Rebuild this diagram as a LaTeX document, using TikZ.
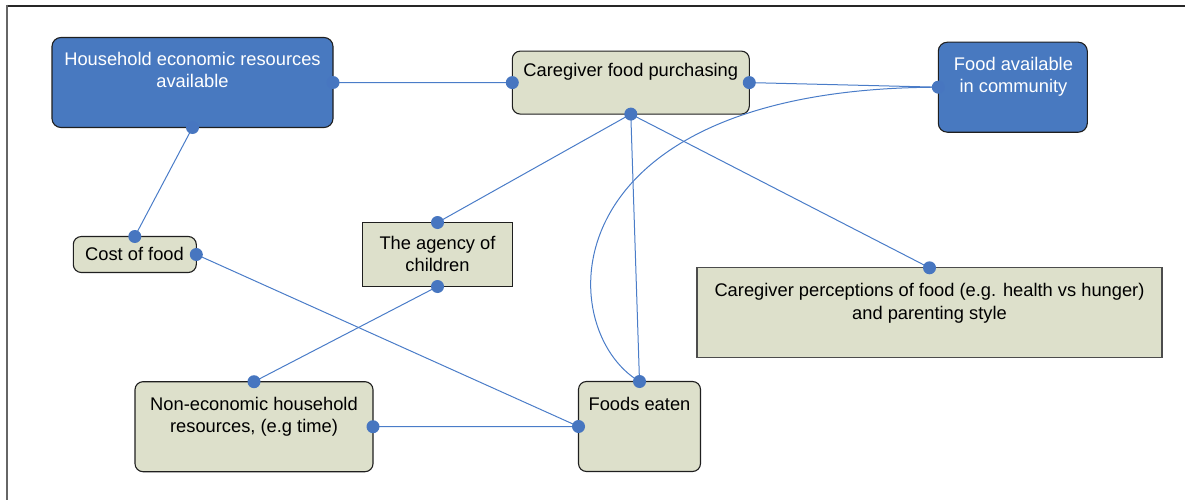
\documentclass[tikz,border=0pt]{standalone}
\usepackage{fontspec}
\setmainfont{Liberation Sans}
\definecolor{boxblue}{RGB}{72,121,192}
\definecolor{boxgreen}{RGB}{221,224,203}
\definecolor{linkblue}{RGB}{74,124,200}
\definecolor{dotblue}{RGB}{71,118,192}
\begin{document}
\begin{tikzpicture}[x=1pt,y=-1pt,
  box/.style={draw=black!88, line width=1.1pt, inner sep=0pt, outer sep=0pt},
  bluebox/.style={box, fill=boxblue, rounded corners=9pt},
  greenbox/.style={box, fill=boxgreen, rounded corners=8pt},
  sqbox/.style={box, fill=boxgreen, sharp corners},
  lbl/.style={anchor=north, align=center, inner sep=0pt, font=\fontsize{18.3}{22.8}\selectfont},
  wlbl/.style={lbl, text=white},
  link/.style={draw=linkblue, line width=1pt},
  dotm/.style={fill=dotblue}]
\useasboundingbox (0,0) rectangle (1185,500);
% frame
\draw[black!85, line width=2pt] (7,5.7) -- (1185,5.7);
\draw[black!60, line width=2.3pt] (7.3,4.7) -- (7.3,500);
% boxes
\node[bluebox, minimum width=281pt, minimum height=90pt] (hh) at (192.5,82.5) {};
\node[greenbox, minimum width=237pt, minimum height=63pt] (cfp) at (630.8,82.6) {};
\node[bluebox, minimum width=149pt, minimum height=90pt] (fa) at (1012.8,87.2) {};
\node[greenbox, minimum width=123pt, minimum height=36pt] (cost) at (134.8,254.5) {};
\node[sqbox, minimum width=150pt, minimum height=64pt] (ag) at (437.5,254.5) {};
\node[sqbox, draw=black!70, minimum width=465pt, minimum height=90pt] (per) at (929.5,312.8) {};
\node[greenbox, minimum width=238pt, minimum height=90pt] (ne) at (254,426.7) {};
\node[greenbox, minimum width=122pt, minimum height=90pt] (fe) at (639.5,426.5) {};
% labels
\node[wlbl] (hht) at (192.5,51.6) {Household economic resources\\available};
\node[lbl] (cfpt) at (630.8,63.4) {Caregiver food purchasing};
\node[wlbl] (fat) at (1013.5,56.7) {Food available\\in community};
\node[lbl] (costt) at (134.5,247) {Cost of food};
\node[lbl] (agt) at (437.5,235.6) {The agency of\\children};
\node[lbl] (pert) at (929.5,283.3) {Caregiver perceptions of food (e.g. health vs hunger)\\and parenting style};
\node[lbl] (net) at (254,396.6) {Non-economic household\\resources, (e.g time)};
\node[lbl] (fet) at (639.5,396.6) {Foods eaten};
% connectors
\draw[link] (hh.east) -- (cfp.west);
\draw[link] (hh.south) -- (cost.north);
\draw[link] (cfp.east) -- (fa.west);
\draw[link] (cfp.south) -- (ag.north);
\draw[link] (cfp.south) -- (fe.north);
\draw[link] (cfp.south) -- (per.north);
\draw[link] (fa.west) .. controls (545,88) and (552,330) .. (fe.north);
\draw[link] (cost.east) -- (fe.west);
\draw[link] (ag.south) -- (ne.north);
\draw[link] (ne.east) -- (fe.west);
% dots
\foreach \p in {hh.east, hh.south, cfp.west, cfp.east, cfp.south, fa.west,
  cost.north, cost.east, ag.north, ag.south, per.north, ne.north, ne.east,
  fe.north, fe.west}
  \fill[dotm] (\p) circle (6.5pt);
\end{tikzpicture}
\end{document}
